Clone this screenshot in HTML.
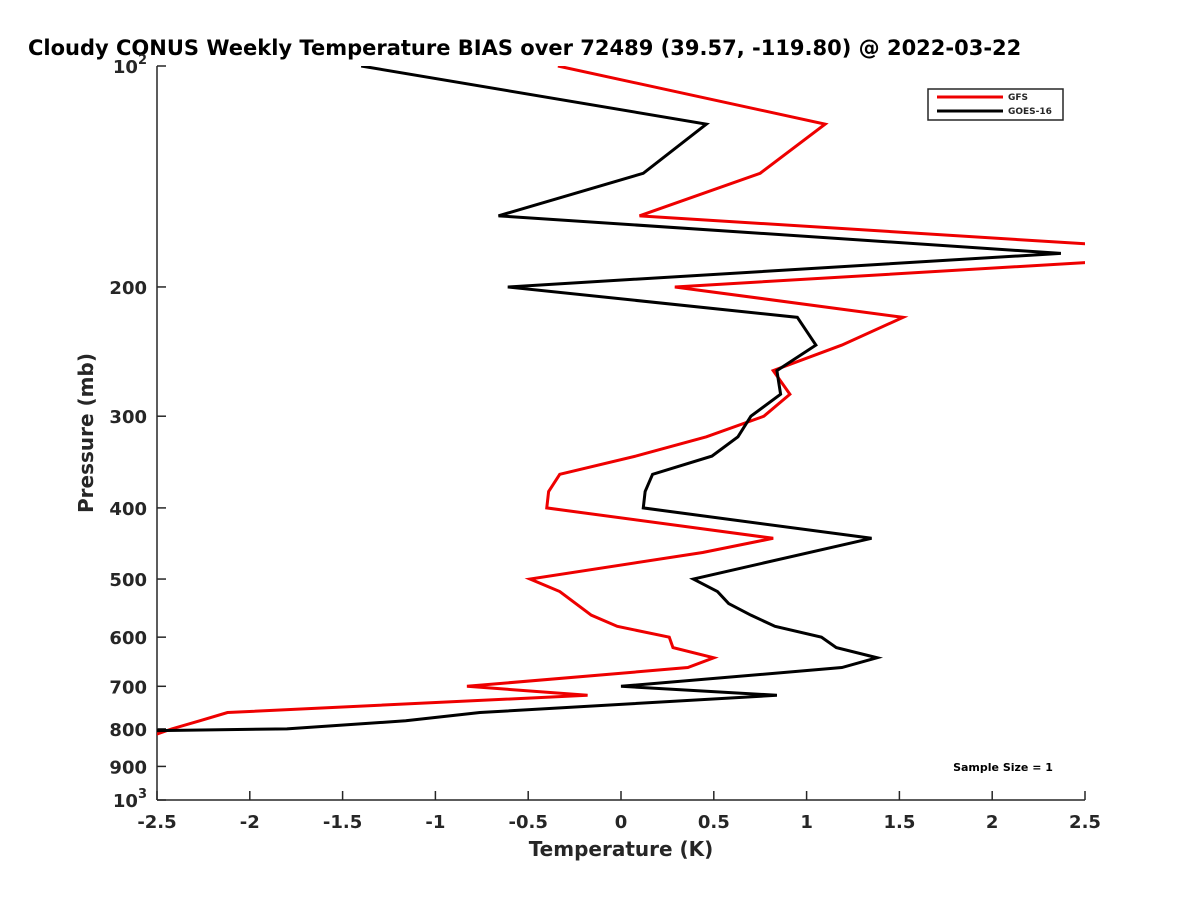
<!DOCTYPE html>
<html><head><meta charset="utf-8"><style>
body{margin:0;background:#fff;overflow:hidden}
svg{font-family:"DejaVu Sans","Liberation Sans",sans-serif;font-weight:bold;fill:#262626}
</style></head><body>
<svg width="1200" height="900">
<defs><clipPath id="pc"><rect x="157" y="66" width="928" height="734"/></clipPath></defs>
<text x="28" y="55" font-size="21" fill="#000">Cloudy CONUS Weekly Temperature BIAS over 72489 (39.57, -119.80) @ 2022-03-22</text>
<g id="axes"></g>
<g id="series" clip-path="url(#pc)"></g>
<g>
<rect x="928" y="89" width="135" height="31" fill="#fff" stroke="#262626" stroke-width="1.5"/>
<line x1="937" y1="97" x2="1003" y2="97" stroke="#e00" stroke-width="3"/>
<text x="1008" y="100" font-size="9">GFS</text>
<line x1="937" y1="111" x2="1003" y2="111" stroke="#000" stroke-width="3"/>
<text x="1008" y="114" font-size="9">GOES-16</text>
</g>
<text x="1003" y="771" font-size="11" fill="#000" text-anchor="middle">Sample Size = 1</text>
<text x="621" y="856" font-size="20" text-anchor="middle">Temperature (K)</text>
<text transform="translate(93,433) rotate(-90)" font-size="20" text-anchor="middle">Pressure (mb)</text>
</svg>
<script>
const xTicks=[-2.5,-2,-1.5,-1,-0.5,0,0.5,1,1.5,2,2.5];
const yTicks=[100,200,300,400,500,600,700,800,900,1000];
const gfsP=[100,120,140,160,175,185,200,220,240,260,280,300,320,340,360,380,400,440,460,500,520,560,580,600,620,640,660,700,720,760,780,800,830];
const gfsT=[-0.34,1.10,0.75,0.10,2.55,2.55,0.29,1.52,1.19,0.82,0.91,0.77,0.46,0.08,-0.33,-0.39,-0.40,0.82,0.44,-0.49,-0.33,-0.16,-0.02,0.26,0.28,0.50,0.36,-0.83,-0.18,-2.12,-2.27,-2.42,-2.6];
const goesP=[100,120,140,160,180,200,220,240,260,270,280,300,320,340,360,380,400,440,500,520,540,560,580,600,620,640,660,700,720,760,780,800,805];
const goesT=[-1.40,0.46,0.12,-0.66,2.37,-0.61,0.95,1.05,0.84,0.85,0.86,0.70,0.63,0.49,0.17,0.13,0.12,1.35,0.39,0.52,0.58,0.70,0.83,1.08,1.16,1.38,1.19,0.00,0.84,-0.76,-1.16,-1.80,-2.6];
const X=t=>157+(t+2.5)*185.6;
const Y=p=>66+734*Math.log10(p/100);
const NS='http://www.w3.org/2000/svg';
const ax=document.getElementById('axes'),sr=document.getElementById('series');
function mk(tag,attrs,parent){const e=document.createElementNS(NS,tag);for(const k in attrs)e.setAttribute(k,attrs[k]);parent.appendChild(e);return e;}
const yl=mk('line',{x1:157,y1:66,x2:157,y2:800,stroke:'#262626','stroke-width':1.5},ax);


const xl=mk('line',{x1:157,y1:800,x2:1085,y2:800,stroke:'#262626','stroke-width':1.5},ax);


xTicks.forEach(t=>{
 mk('line',{x1:X(t),y1:800,x2:X(t),y2:791,stroke:'#262626','stroke-width':1.5},ax);
 const tx=mk('text',{x:X(t),y:828,'font-size':18,'text-anchor':'middle'},ax);
 tx.textContent=String(t);
 
 
});
yTicks.forEach(p=>{
 mk('line',{x1:157,y1:Y(p),x2:166,y2:Y(p),stroke:'#262626','stroke-width':1.5},ax);
 const tx=mk('text',{x:147,y:Y(p)+7,'font-size':18,'text-anchor':'end'},ax);
 if(p===100||p===1000){tx.textContent='10';const s=mk('tspan',{dy:-9,'font-size':13},tx);s.textContent=p===100?'2':'3';}
 else tx.textContent=String(p);
 
 
});
function line(P,T,col,name){
 const pl=mk('polyline',{points:P.map((p,i)=>X(T[i])+','+Y(p)).join(' '),fill:'none',stroke:col,'stroke-width':3,'stroke-linejoin':'miter'},sr);
 
 
}
line(gfsP,gfsT,'#e00','gfs-line');
line(goesP,goesT,'#000','goes16-line');
</script>
</body></html>
